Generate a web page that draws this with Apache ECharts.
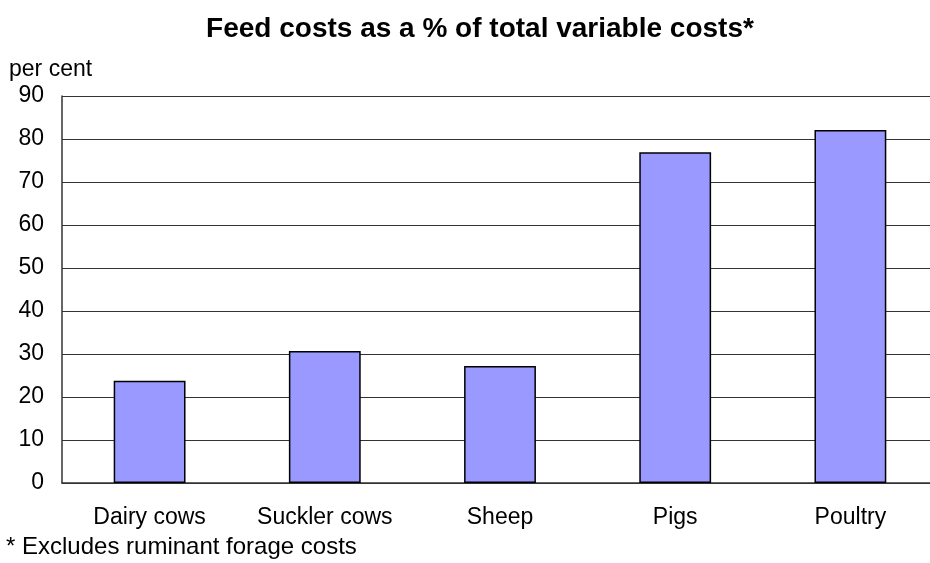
<!DOCTYPE html>
<html>
<head>
<meta charset="utf-8">
<script src="https://cdn.jsdelivr.net/npm/echarts@6/dist/echarts.min.js"></script>
<style>
  html, body { margin: 0; padding: 0; background: #fff; overflow: hidden; }
  #chart { width: 940px; height: 563px; }
</style>
</head>
<body>
<div id="chart"></div>
<script>
const categories = ['Dairy cows', 'Suckler cows', 'Sheep', 'Pigs', 'Poultry']
const feedShare = [23.8, 30.7, 27.2, 76.9, 82.1]

const chart = echarts.init(document.getElementById('chart'))
const font = 'Liberation Sans, Arial, sans-serif'

// plot runs slightly past the right edge of the 930px window, like the original
chart.setOption({
  animation: false,
  title: {
    text: 'Feed costs as a % of total variable costs*',
    left: 475,
    top: 10,
    textAlign: 'center',
    textStyle: { fontFamily: font, fontSize: 28, fontWeight: 'bold', color: '#000' }
  },
  graphic: [
    {
      type: 'text', left: 9, top: 58,
      style: { text: 'per cent', font: '23px ' + font, fill: '#000' }
    },
    {
      type: 'text', left: 6, top: 535,
      style: { text: '* Excludes ruminant forage costs', font: '24px ' + font, fill: '#000' }
    }
  ],
  grid: { left: 62, right: 2, top: 96, bottom: 80 },
  xAxis: {
    type: 'category',
    data: categories,
    axisLine: { lineStyle: { color: '#333', width: 1.5 } },
    axisTick: { show: false },
    axisLabel: { interval: 0, hideOverlap: false, color: '#000', fontFamily: font, fontSize: 23, margin: 23 }
  },
  yAxis: {
    type: 'value',
    min: 0,
    max: 90,
    interval: 10,
    axisLine: { show: true, lineStyle: { color: '#333', width: 1.5 } },
    axisTick: { show: true, inside: true, length: 6, lineStyle: { color: '#333' } },
    axisLabel: { color: '#000', fontFamily: font, fontSize: 23, margin: 18 },
    splitLine: { lineStyle: { color: '#333', width: 1 } }
  },
  series: [{
    type: 'bar',
    data: feedShare,
    barWidth: '41%',
    itemStyle: { color: '#9999ff', borderColor: '#000', borderWidth: 1.5 }
  }]
})
</script>
</body>
</html>
